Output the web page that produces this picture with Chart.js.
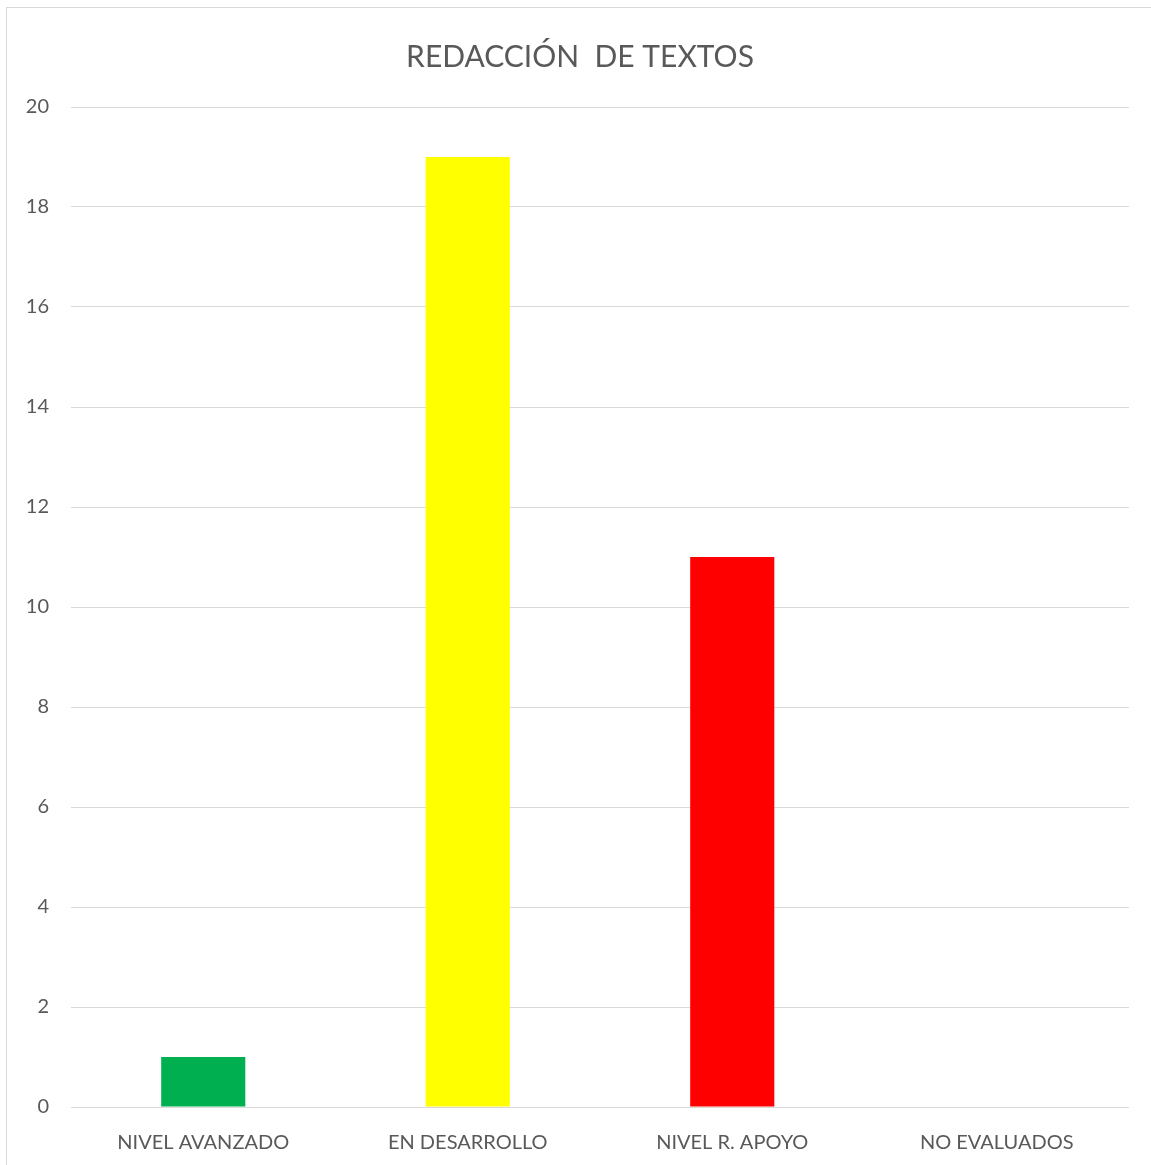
<!DOCTYPE html>
<html>
<head>
<meta charset="utf-8">
<script src="https://cdn.jsdelivr.net/npm/chart.js@4/dist/chart.umd.min.js"></script>
<style>
    body { margin: 0; background: #fff; }
    #box {
        position: absolute;
        left: 6px;
        top: 7px;
        width: 1160px;
        height: 1170px;
        border: 1px solid #d9d9d9;
        background: #fff;
    }
    #wrap { position: absolute; left: 0; top: 0; width: 1144px; height: 1158px; }
</style>
</head>
<body>
<div id="box"><div id="wrap"><canvas id="chart"></canvas></div></div>
<script>
const chartTitle = 'REDACCIÓN  DE TEXTOS';
const categories = ['NIVEL AVANZADO', 'EN DESARROLLO', 'NIVEL R. APOYO', 'NO EVALUADOS'];
const values = [1, 19, 11, 0];
const barColors = ['#00B050', '#FFFF00', '#FF0000', '#A5A5A5'];
const yTicks = [0, 2, 4, 6, 8, 10, 12, 14, 16, 18, 20];

const fontFamily = 'Lato, "Open Sans", sans-serif';
const textColor = '#595959';

// the title in the original is centred on the whole frame, not inside the right padding
const centreTitle = {
    id: 'centreTitle',
    afterLayout(chart) {
        if (chart.titleBlock) {
            chart.titleBlock.right += 24;
        }
    }
};

new Chart(document.getElementById('chart'), {
    type: 'bar',
    data: {
        labels: categories,
        datasets: [{
            data: values,
            backgroundColor: barColors,
            borderWidth: 0,
            barPercentage: 0.318,
            categoryPercentage: 1
        }]
    },
    options: {
        responsive: true,
        maintainAspectRatio: false,
        animation: false,
        layout: { padding: { left: 0, right: 22, top: 0, bottom: 0 } },
        plugins: {
            legend: { display: false },
            tooltip: { enabled: false },
            title: {
                display: true,
                text: chartTitle,
                color: textColor,
                font: { family: fontFamily, size: 30, weight: 'normal', lineHeight: 1.2 },
                padding: { top: 31, bottom: 32 }
            }
        },
        scales: {
            x: {
                grid: { display: false, drawTicks: false },
                border: { display: false },
                ticks: {
                    color: textColor,
                    padding: 24,
                    font: { family: fontFamily, size: 20 }
                },
                afterFit: function(scale) { scale.height = 59; }
            },
            y: {
                min: 0,
                max: 20,
                afterBuildTicks: function(scale) {
                    scale.ticks = yTicks.map(v => ({ value: v }));
                },
                grid: { color: '#d9d9d9', lineWidth: 1, drawTicks: false },
                border: { display: false },
                ticks: {
                    color: textColor,
                    padding: 22,
                    font: { family: fontFamily, size: 20 }
                },
                afterFit: function(scale) { scale.width = 64; }
            }
        }
    },
    plugins: [centreTitle]
});
</script>
</body>
</html>
